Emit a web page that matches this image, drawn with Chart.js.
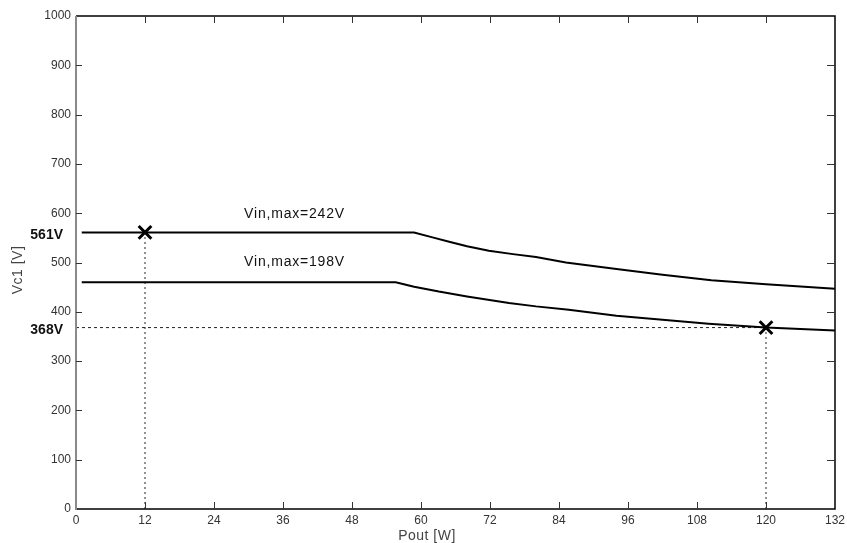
<!DOCTYPE html>
<html>
<head>
<meta charset="utf-8">
<script src="https://cdn.jsdelivr.net/npm/chart.js@4.4.1/dist/chart.umd.min.js"></script>
<style>
html,body{margin:0;padding:0;background:#fff;}
#wrap{width:847px;height:543px;position:relative;}
</style>
</head>
<body>
<div id="wrap"><canvas id="c" width="847" height="543"></canvas></div>
<script>
// ---- data ----
const upperX = [1, 58.8, 62, 64.9, 68, 71.8, 76, 80, 85.2, 94, 102, 110.5, 120, 132];
const upperY = [561, 561, 551, 542, 533, 524, 517, 511, 500, 487, 475, 464, 456, 447];
const lowerX = [1, 55.6, 58.8, 63.1, 68, 75.3, 80, 85.7, 94, 102, 110, 120, 132];
const lowerY = [460, 460, 451, 441, 431, 418, 411, 404, 392, 384, 376, 368, 362];
const markX = [12, 120];
const markY = [561, 368];
const xTicks = [0, 12, 24, 36, 48, 60, 72, 84, 96, 108, 120, 132];
const yTicks = [0, 100, 200, 300, 400, 500, 600, 700, 800, 900, 1000];
const curveLabels = ["Vin,max=242V", "Vin,max=198V"];
const curveLabelPos = [[38, 599], [38, 500]];
const valueLabels = ["561V", "368V"];
const xTitle = "Pout [W]";
const yTitle = "Vc1 [V]";

const pts = (xs, ys) => xs.map((x, i) => ({x: x, y: ys[i]}));

const FONT = '"Liberation Sans", Arial, Helvetica, sans-serif';

const decor = {
  id: 'decor',
  afterDraw(chart) {
    const ctx = chart.ctx;
    const xs = chart.scales.x, ys = chart.scales.y;
    const a = chart.chartArea;
    ctx.save();
    // frame
    ctx.lineWidth = 1.5;
    ctx.strokeStyle = '#000';
    ctx.beginPath();
    ctx.moveTo(a.left, a.top); ctx.lineTo(a.right, a.top); ctx.lineTo(a.right, a.bottom); ctx.lineTo(a.left, a.bottom);
    ctx.stroke();
    ctx.strokeStyle = '#8a8a8a';
    ctx.lineWidth = 2;
    ctx.beginPath();
    ctx.moveTo(a.left, a.top); ctx.lineTo(a.left, a.bottom + 1);
    ctx.stroke();
    // inward ticks
    ctx.lineWidth = 1;
    ctx.strokeStyle = '#333';
    xTicks.forEach(v => {
      const px = Math.round(xs.getPixelForValue(v)) + 0.5;
      if (v === 0 || v === 132) return;
      ctx.beginPath();
      ctx.moveTo(px, a.bottom); ctx.lineTo(px, a.bottom - 7);
      ctx.moveTo(px, a.top); ctx.lineTo(px, a.top + 7);
      ctx.stroke();
    });
    yTicks.forEach(v => {
      const py = Math.round(ys.getPixelForValue(v)) + 0.5;
      if (v === 0 || v === 1000) return;
      ctx.beginPath();
      ctx.moveTo(a.left, py); ctx.lineTo(a.left + 6, py);
      ctx.moveTo(a.right, py); ctx.lineTo(a.right - 8, py);
      ctx.stroke();
    });
    // curve labels
    ctx.fillStyle = '#111';
    ctx.font = '14px ' + FONT;
    ctx.letterSpacing = '0.8px';
    ctx.textAlign = 'center';
    ctx.textBaseline = 'middle';
    curveLabels.forEach((t, i) => {
      ctx.fillText(t, xs.getPixelForValue(curveLabelPos[i][0]), ys.getPixelForValue(curveLabelPos[i][1]));
    });
    // value labels on the left
    ctx.letterSpacing = '0px';
    ctx.font = 'bold 14px ' + FONT;
    ctx.textAlign = 'right';
    valueLabels.forEach((t, i) => {
      ctx.fillText(t, 63, ys.getPixelForValue(markY[i]) + 3);
    });
    // axis titles
    ctx.font = '14px ' + FONT;
    ctx.letterSpacing = '0.5px';
    ctx.fillStyle = '#444';
    ctx.textAlign = 'center';
    ctx.fillText(xTitle, 427, a.bottom + 27);
    ctx.translate(18, 270);
    ctx.rotate(-Math.PI / 2);
    ctx.fillText(yTitle, 0, 0);
    ctx.restore();
  }
};

new Chart(document.getElementById('c'), {
  type: 'scatter',
  data: {
    datasets: [
      { data: pts(upperX, upperY), showLine: true, borderColor: '#000', borderWidth: 2, pointRadius: 0, tension: 0 },
      { data: pts(lowerX, lowerY), showLine: true, borderColor: '#000', borderWidth: 2, pointRadius: 0, tension: 0 },
      { data: [{x: markX[0], y: 0}, {x: markX[0], y: markY[0]}], showLine: true, borderColor: '#222', borderWidth: 1, borderDash: [2, 3], pointRadius: 0 },
      { data: [{x: 0, y: markY[1]}, {x: markX[1], y: markY[1]}], showLine: true, borderColor: '#222', borderWidth: 1, borderDash: [3, 3], pointRadius: 0 },
      { data: [{x: markX[1], y: 0}, {x: markX[1], y: markY[1]}], showLine: true, borderColor: '#222', borderWidth: 1, borderDash: [2, 3], pointRadius: 0 },
      { data: pts(markX, markY), showLine: false, pointStyle: 'crossRot', pointRadius: 9, borderColor: '#000', pointBorderWidth: 3, borderWidth: 3 }
    ]
  },
  options: {
    responsive: false,
    animation: false,
    layout: { padding: { left: 0, top: 16, right: 7, bottom: 0 } },
    plugins: { legend: { display: false }, tooltip: { enabled: false } },
    scales: {
      x: {
        type: 'linear', min: 0, max: 132,
        afterBuildTicks: s => { s.ticks = xTicks.map(v => ({value: v})); },
        afterFit: s => { s.height = 34; s.paddingLeft = 0; s.paddingRight = 0; },
        grid: { display: false, drawTicks: false },
        border: { display: false },
        ticks: { color: '#333', font: { family: FONT, size: 12 }, padding: 4, maxRotation: 0, autoSkip: false,
                 callback: v => String(v) }
      },
      y: {
        type: 'linear', min: 0, max: 1000,
        afterBuildTicks: s => { s.ticks = yTicks.map(v => ({value: v})); },
        afterFit: s => { s.width = 76; s.paddingTop = 0; s.paddingBottom = 0; },
        grid: { display: false, drawTicks: false },
        border: { display: false },
        ticks: { color: '#333', font: { family: FONT, size: 12 }, padding: 5, autoSkip: false,
                 callback: v => String(v) }
      }
    }
  },
  plugins: [decor]
});
</script>
</body>
</html>
